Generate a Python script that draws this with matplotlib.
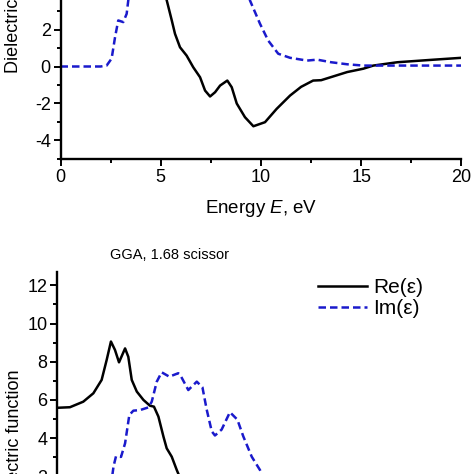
import matplotlib
matplotlib.use("Agg")
import matplotlib.pyplot as plt
from matplotlib.ticker import MultipleLocator

plt.rcParams['font.family'] = ['Liberation Sans', 'DejaVu Sans']
plt.rcParams['axes.unicode_minus'] = False
plt.rcParams['mathtext.fontset'] = 'custom'
plt.rcParams['mathtext.rm'] = 'Liberation Sans'
plt.rcParams['mathtext.it'] = 'Liberation Sans:italic'

# ---- top panel data ----
top_im_x = [0, 1.0, 2.0, 2.3, 2.55, 2.72, 2.88, 3.13, 3.3, 3.38, 3.6, 4.0, 5.0, 6.0, 7.0,
            8.0, 9.0, 9.45, 9.95, 10.36, 10.86, 11.45, 12.3, 12.8, 13.5, 14.3, 15.1,
            16.8, 18.5, 20]
top_im_y = [0, 0, 0, 0.05, 0.43, 1.58, 2.49, 2.4, 2.85, 3.57, 5.0, 6.5, 7.5, 8.0, 7.5,
            7.0, 5.5, 3.57, 2.31, 1.4, 0.69, 0.47, 0.32, 0.37, 0.23, 0.12, 0.05,
            0.05, 0.05, 0.05]

top_re_x = [0, 2.0, 3.0, 4.0, 4.8, 5.3, 5.55, 5.71, 5.96, 6.29, 6.62, 6.96, 7.21, 7.46,
            7.71, 7.96, 8.32, 8.54, 8.79, 9.2, 9.62, 10.2, 10.78, 11.45, 12.0, 12.6,
            13.0, 14.3, 15.1, 15.6, 16.8, 18.5, 20]
top_re_y = [6.0, 7.0, 9.0, 8.0, 5.5, 3.57, 2.49, 1.77, 1.04, 0.59, -0.04, -0.58, -1.30, -1.62,
            -1.39, -1.03, -0.76, -1.12, -2.0, -2.74, -3.23, -3.01, -2.29, -1.57, -1.1, -0.76,
            -0.74, -0.3, -0.12, 0.05, 0.23, 0.36, 0.47]

# ---- bottom panel data (GGA, 1.68 scissor) ----
bot_re_x = [0, 0.64, 1.3, 1.8, 2.21, 2.46, 2.67, 2.87, 3.07, 3.37, 3.53, 3.70, 3.95, 4.28,
            4.6, 4.8, 5.02, 5.27, 5.43, 5.68, 5.93, 6.1, 6.4, 6.9]
bot_re_y = [5.59, 5.62, 5.91, 6.35, 7.05, 8.1, 9.06, 8.62, 7.97, 8.70, 8.26, 7.05, 6.44, 6.0,
            5.70, 5.65, 5.13, 4.08, 3.47, 3.03, 2.33, 1.9, 1.0, -0.5]

bot_im_x = [0, 2.0, 2.5, 2.8, 2.92, 3.17, 3.37, 3.58, 3.78, 4.11, 4.52, 4.69, 4.94, 5.18,
            5.56, 6.0, 6.09, 6.5, 6.92, 7.2, 7.41, 7.66, 7.82, 8.15, 8.56, 8.93, 9.22,
            9.64, 10.05, 10.6]
bot_im_y = [0, 0, 0.2, 2.53, 3.05, 3.02, 3.73, 5.21, 5.44, 5.47, 5.61, 5.91, 6.96, 7.45,
            7.22, 7.40, 7.33, 6.52, 6.96, 6.66, 5.5, 4.36, 4.14, 4.45, 5.36, 4.97, 4.1,
            3.03, 2.33, 1.0]

blue = '#1a1acc'
W = H = 474.0
fig = plt.figure(figsize=(4.74, 4.74), dpi=100)

def style(ax):
    for s in ['top', 'right']:
        ax.spines[s].set_visible(False)
    for s in ['left', 'bottom']:
        ax.spines[s].set_linewidth(1.7)
    ax.tick_params(which='major', direction='out', length=5, width=1.4, labelsize=13, pad=2)
    ax.tick_params(which='minor', direction='out', length=3, width=1.4)
    ax.set_facecolor('none')

dash = (0, (3.0, 1.6))

# top axes
ax1 = fig.add_axes([60.5/W, 1 - 159/H, 401/W, 17*18.5/H])
ax1.plot(top_re_x, top_re_y, color='black', lw=1.8)
ax1.plot(top_im_x, top_im_y, color=blue, lw=1.8, ls=dash)
ax1.set_xlim(0, 20)
ax1.set_ylim(-5, 12)
ax1.xaxis.set_major_locator(MultipleLocator(5))
ax1.xaxis.set_minor_locator(MultipleLocator(2.5))
ax1.yaxis.set_major_locator(MultipleLocator(2))
ax1.yaxis.set_minor_locator(MultipleLocator(1))
ax1.set_xlabel('Energy $E$, eV', fontsize=13.5, labelpad=9)
ax1.set_ylabel('Dielectric function', fontsize=13)
ax1.yaxis.set_label_coords(-0.095, 0.5)
style(ax1)

# bottom axes
ax2 = fig.add_axes([57/W, 1 - (272 + 17.7*19.1)/H, 404/W, 17.7*19.1/H])
ax2.plot(bot_re_x, bot_re_y, color='black', lw=1.8, label='Re(ε)')
ax2.plot(bot_im_x, bot_im_y, color=blue, lw=1.8, ls=dash, label='Im(ε)')
ax2.set_xlim(0, 20)
ax2.set_ylim(-5, 12.7)
ax2.xaxis.set_major_locator(MultipleLocator(5))
ax2.xaxis.set_minor_locator(MultipleLocator(2.5))
ax2.yaxis.set_major_locator(MultipleLocator(2))
ax2.yaxis.set_minor_locator(MultipleLocator(1))
ax2.set_ylabel('Dielectric function', fontsize=13)
ax2.yaxis.set_label_coords(-0.085, 0.5)
style(ax2)
ax2.legend(loc='upper left', bbox_to_anchor=(318/W, 1 - 278/H), bbox_transform=fig.transFigure,
           frameon=False, fontsize=15, handlelength=2.35, handletextpad=0.3,
           labelspacing=0.1, borderpad=0, borderaxespad=0)

fig.text(110/W, 1 - 255/H, 'GGA, 1.68 scissor', fontsize=10.5, va='center', ha='left')

fig.savefig('out.png', dpi=100)
